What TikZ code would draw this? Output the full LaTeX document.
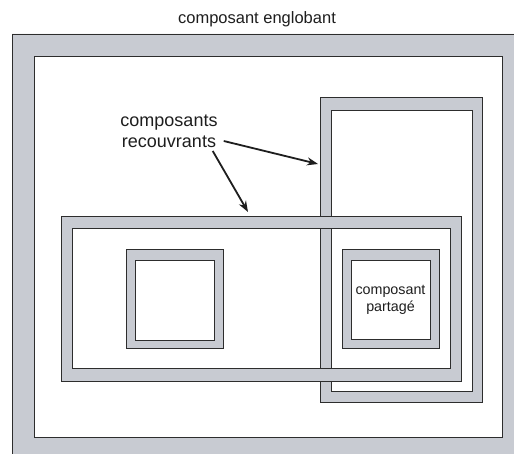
\documentclass[tikz,border=0pt]{standalone}
\usepackage{fontspec}
\setmainfont{Liberation Sans}
\usetikzlibrary{arrows.meta}
\definecolor{ringgray}{RGB}{200,203,210}
\definecolor{edgegray}{RGB}{45,45,45}
\definecolor{txt}{RGB}{30,30,30}
\tikzset{
  ringfill/.style={fill=ringgray, even odd rule},
  ringline/.style={draw=edgegray, line width=0.9pt},
  pointer/.style={draw=txt, line width=1.8pt, -{Stealth[length=11pt,width=8pt]}},
  lbl/.style={text=txt, inner sep=0pt, align=center}
}
\newcommand\myring[8]{%
  \fill[ringfill] (#1,#2) rectangle (#3,#4) (#5,#6) rectangle (#7,#8);
  \draw[ringline] (#1,#2) rectangle (#3,#4) (#5,#6) rectangle (#7,#8);
}
\begin{document}
\begin{tikzpicture}[x=1pt,y=-1pt]
\useasboundingbox (0,0) rectangle (514,454);
\fill[white] (0,0) rectangle (514,454);
\clip (0,0) rectangle (514,454);
% composant englobant
\myring{12}{34}{524}{459}{34}{56}{502}{437}
% tall overlapping component
\myring{320.5}{97.5}{482.5}{402}{331.5}{110}{472.5}{391.5}
% horizontal overlapping component
\myring{61.5}{216.5}{461.5}{381.5}{72.5}{228.5}{450.5}{368.5}
% left small square
\myring{126}{249.5}{223.5}{348.5}{135}{260.5}{214.5}{340}
% shared component
\myring{342.5}{249.5}{439.5}{348.5}{351}{260.5}{430.5}{339.5}

\node[lbl, font=\fontsize{16.5}{19}\selectfont, anchor=base] (top) at (257,23.5) {composant englobant};
\node[lbl, font=\fontsize{18}{21}\selectfont] (rec) at (169,131) {composants\\recouvrants};
\node[lbl, font=\fontsize{14.3}{16.5}\selectfont] (shared) at (390.5,300) {composant\\partagé};

\coordinate (tipA) at (318,164);
\coordinate (tipB) at (248,212);
\draw[pointer] ([xshift=6pt,yshift=-10pt]rec.east) -- (tipA);
\draw[pointer] ([xshift=-5pt,yshift=-20pt]rec.east) -- (tipB);
\end{tikzpicture}
\end{document}
